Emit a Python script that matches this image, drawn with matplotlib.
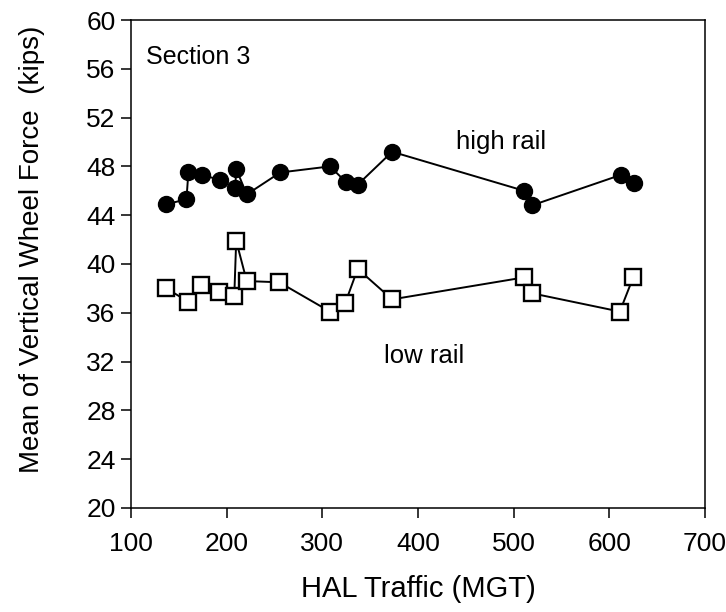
import matplotlib
matplotlib.use("Agg")
import matplotlib.pyplot as plt

plt.rcParams['font.family'] = ['Liberation Sans', 'DejaVu Sans']

# HAL traffic (MGT) and mean vertical wheel force (kips), section 3
high_mgt = [137, 158, 160, 174, 193, 209, 210, 221, 256, 308, 325, 337, 373, 511, 519, 612, 626]
high_force = [44.9, 45.3, 47.5, 47.3, 46.9, 46.2, 47.8, 45.7, 47.5, 48.0, 46.7, 46.5, 49.2, 46.0, 44.8, 47.3, 46.6]

low_mgt = [137, 160, 173, 192, 208, 210, 221, 255, 308, 324, 337, 373, 511, 519, 611, 625]
low_force = [38.0, 36.9, 38.3, 37.7, 37.4, 41.9, 38.6, 38.5, 36.1, 36.8, 39.6, 37.1, 38.9, 37.6, 36.1, 38.9]

fig = plt.figure(figsize=(7.26, 6.12), dpi=100)
ax = fig.add_axes([0.1804, 0.1700, 0.7906, 0.7973])

ax.plot(high_mgt, high_force, color='black', linewidth=1.4, marker='o',
        markersize=11.5, markerfacecolor='black', markeredgecolor='black')
ax.plot(low_mgt, low_force, color='black', linewidth=1.4, marker='s',
        markersize=11, markerfacecolor='white', markeredgecolor='black',
        markeredgewidth=1.7)

ax.set_xlim(100, 700)
ax.set_ylim(20, 60)
ax.set_xticks(range(100, 701, 100))
ax.set_yticks(range(20, 61, 4))
ax.tick_params(direction='out', length=7, width=1.1, labelsize=19, pad=4)
ax.tick_params(axis='x', pad=10)
for s in ax.spines.values():
    s.set_linewidth(1.1)

ax.text(0.026, 0.925, 'Section 3', transform=ax.transAxes, fontsize=18, va='center', ha='left')
ax.text(440, 49.45, 'high rail', fontsize=18.5, ha='left', va='baseline')
ax.text(365, 31.85, 'low rail', fontsize=18.5, ha='left', va='baseline')

ax.set_xlabel('HAL Traffic (MGT)', fontsize=21, labelpad=14)
ax.set_ylabel('Mean of Vertical Wheel Force  (kips)', fontsize=20, labelpad=10)
ax.yaxis.set_label_coords(-0.15, 0.53)

fig.savefig('out.png', dpi=100)
